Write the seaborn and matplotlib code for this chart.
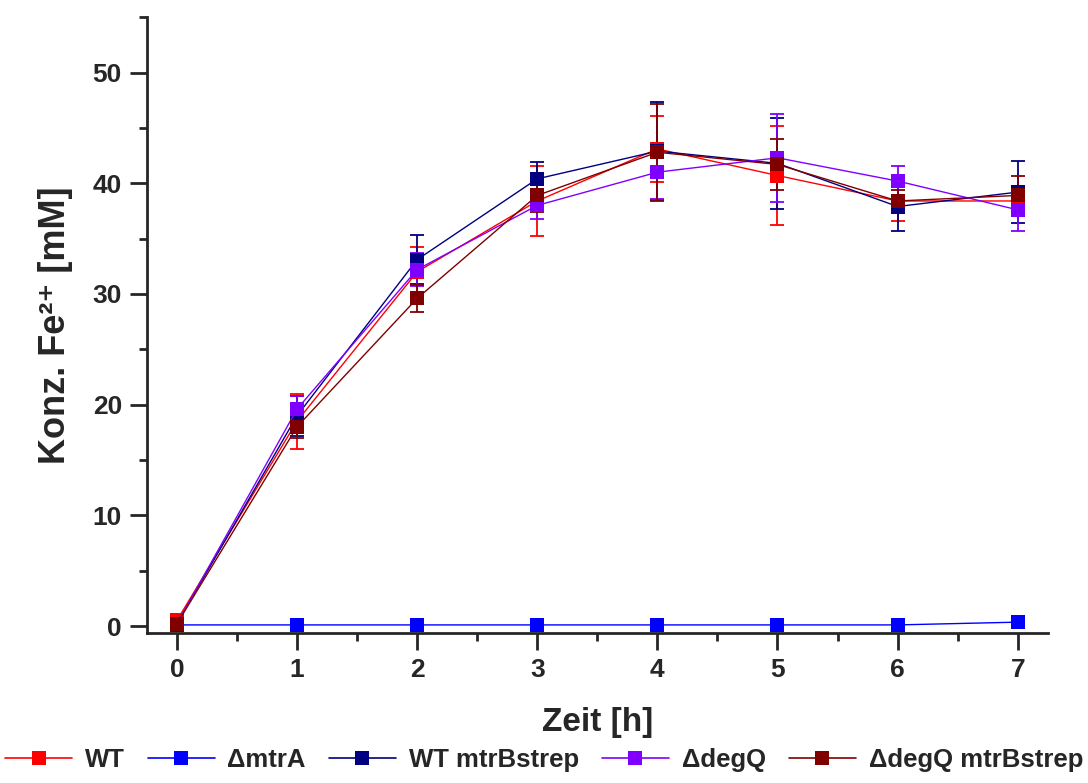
import matplotlib
matplotlib.use('Agg')
import matplotlib.pyplot as plt
from matplotlib.ticker import MultipleLocator
import seaborn as sns
import pandas as pd

# time points [h]
zeit = [0, 1, 2, 3, 4, 5, 6, 7]

# Fe2+ concentration [mM] per strain, with error (SD)
wt = [0.5, 18.5, 32.0, 38.4, 43.1, 40.7, 38.4, 38.4]
wt_err = [0.3, 2.5, 2.2, 3.2, 3.0, 4.5, 1.8, 0.8]
mtrA = [0.1, 0.1, 0.1, 0.1, 0.1, 0.1, 0.1, 0.35]
mtrA_err = [0.05, 0.05, 0.05, 0.05, 0.05, 0.05, 0.05, 0.05]
wt_mtrB = [0.2, 19.0, 33.1, 40.4, 42.9, 41.8, 37.9, 39.2]
wt_mtrB_err = [0.1, 1.8, 2.2, 1.5, 4.4, 4.1, 2.2, 2.8]
degQ = [0.2, 19.6, 32.2, 38.0, 41.0, 42.3, 40.2, 37.6]
degQ_err = [0.1, 1.2, 1.5, 1.2, 2.4, 4.0, 1.4, 1.9]
degQ_mtrB = [0.2, 18.0, 29.6, 38.9, 42.8, 41.7, 38.4, 38.9]
degQ_mtrB_err = [0.1, 1.0, 1.2, 1.5, 4.4, 2.3, 1.0, 1.8]

labels = ['WT', '\u0394mtrA', 'WT mtrBstrep', '\u0394degQ', '\u0394degQ mtrBstrep']
colors = ['#ff0000', '#0000ff', '#000080', '#8000ff', '#800000']
series = [wt, mtrA, wt_mtrB, degQ, degQ_mtrB]
errors = [wt_err, mtrA_err, wt_mtrB_err, degQ_err, degQ_mtrB_err]

rows = []
for lab, vals, errs in zip(labels, series, errors):
    for t, v, e in zip(zeit, vals, errs):
        rows.append({'Zeit': t, 'Konz': v, 'Err': e, 'Stamm': lab})
df = pd.DataFrame(rows)

sns.set_style('ticks')
plt.rcParams['font.family'] = ['Liberation Sans', 'DejaVu Sans']
plt.rcParams['font.weight'] = 'bold'

fig = plt.figure(figsize=(10.88, 7.83), dpi=100)
ax = fig.add_axes([0.135, 0.192, 0.828, 0.786])

for lab, col in zip(labels, colors):
    sub = df[df['Stamm'] == lab]
    ax.errorbar(sub['Zeit'], sub['Konz'], yerr=sub['Err'], fmt='none',
                ecolor=col, elinewidth=1.3, capsize=5, capthick=1.3, zorder=2)

sns.lineplot(data=df, x='Zeit', y='Konz', hue='Stamm', hue_order=labels,
             palette=dict(zip(labels, colors)), marker='s', markersize=10.5,
             markeredgewidth=0, linewidth=1.0, ax=ax, zorder=3, legend=False)

ax.set_xlim(-0.25, 7.25)
ax.set_ylim(-0.6, 55)
ax.xaxis.set_major_locator(MultipleLocator(1))
ax.xaxis.set_minor_locator(MultipleLocator(0.5))
ax.yaxis.set_major_locator(MultipleLocator(10))
ax.yaxis.set_minor_locator(MultipleLocator(5))
ax.tick_params(axis='both', which='major', length=12, width=2, labelsize=19, pad=6)
ax.tick_params(axis='both', which='minor', length=6, width=2)
for lbl in ax.get_xticklabels() + ax.get_yticklabels():
    lbl.set_fontweight('bold')

sns.despine(ax=ax)
for sp in ['left', 'bottom']:
    ax.spines[sp].set_linewidth(2)

ax.set_xlabel('Zeit [h]', fontsize=24, fontweight='bold', labelpad=18)
ax.set_ylabel('Konz. Fe\u00b2\u207a [mM]', fontsize=26, fontweight='bold', labelpad=14)

handles = [plt.Line2D([], [], color=c, marker='s', markersize=10, markeredgewidth=0,
                      linewidth=1.2) for c in colors]
fig.legend(handles, labels, loc='lower center', bbox_to_anchor=(0.5, -0.015), ncol=5,
           frameon=False, handlelength=2.6, columnspacing=0.9,
           handletextpad=0.5, prop={'weight': 'bold', 'size': 18.5})

fig.savefig('out.png', dpi=100)
